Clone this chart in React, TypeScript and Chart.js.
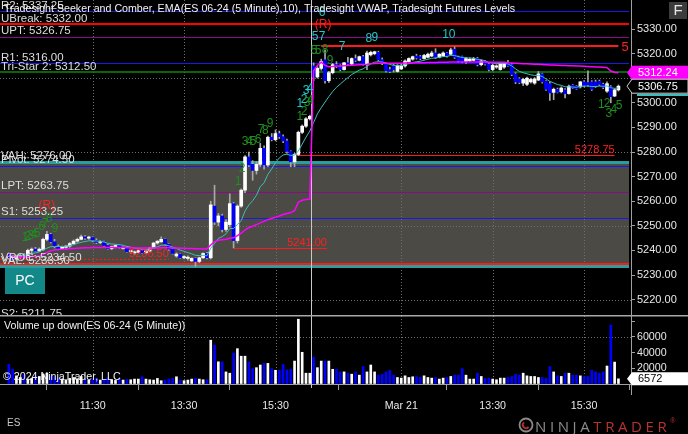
import React, { useEffect, useRef } from "react";
import { Chart, registerables } from "chart.js";

Chart.register(...registerables);

// ================= DATA =================
// Bar index 0 = 09:40 day 1, index 80 = 09:35 Mar 21 (5-minute bars)
const opens = [
  5238.5, 5237.0, 5236.5, 5237.5, 5238.0, 5237.25, 5240.0, 5240.5, 5239.75, 5240.25,
  5244.5, 5246.5, 5243.5, 5241.5, 5240.75, 5241.25, 5241.75, 5242.75, 5243.75, 5244.5,
  5245.5, 5245.0, 5245.25, 5244.0, 5243.25, 5243.5, 5242.0, 5240.75, 5241.5, 5242.0,
  5240.75, 5241.25, 5239.5, 5239.0, 5239.25, 5240.0, 5239.0, 5239.75, 5241.0, 5243.0,
  5243.5, 5244.5, 5242.5, 5240.5, 5237.75, 5238.5, 5237.0, 5236.75, 5235.75, 5236.75,
  5235.5, 5237.0, 5238.75, 5237.0, 5258.0, 5251.5, 5254.0, 5248.5, 5250.5, 5259.0,
  5244.0, 5258.0, 5264.5, 5278.0, 5275.0, 5272.5, 5275.0, 5281.5, 5274.75, 5286.0,
  5285.0, 5287.5, 5286.25, 5284.5, 5280.25, 5276.0, 5279.0, 5288.0, 5290.5, 5293.5,
  5315.0, 5310.5, 5314.0, 5317.5, 5309.0, 5312.25, 5315.5, 5314.75, 5313.5, 5316.25,
  5315.75, 5318.0, 5317.25, 5318.75, 5315.75, 5319.5, 5320.0, 5320.5, 5317.5, 5315.75,
  5313.5, 5315.25, 5312.75, 5313.75, 5315.0, 5316.75, 5317.75, 5319.0, 5318.75, 5318.0,
  5318.5, 5319.0, 5320.25, 5318.5, 5319.0, 5320.25, 5319.75, 5321.75, 5318.5, 5318.75,
  5316.75, 5317.0, 5317.25, 5318.0, 5315.5, 5317.0, 5315.75, 5313.5, 5314.5, 5313.5,
  5314.5, 5316.25, 5315.5, 5311.75, 5309.75, 5308.0, 5307.5, 5308.5, 5308.0, 5309.25,
  5311.75, 5308.75, 5307.75, 5304.25, 5305.5, 5304.5, 5305.25, 5303.75, 5307.25, 5306.75,
  5306.5, 5308.5, 5308.25, 5308.5, 5308.5, 5308.75, 5307.5, 5304.75, 5306.5, 5302.75,
  5305.25,
];
const highs = [
  5239.0, 5238.0, 5238.0, 5238.5, 5238.75, 5240.5, 5241.0, 5241.25, 5241.0, 5245.0,
  5247.75, 5247.0, 5244.5, 5242.25, 5241.75, 5242.0, 5243.25, 5244.25, 5245.0, 5246.25,
  5246.0, 5245.75, 5245.5, 5244.75, 5244.0, 5243.75, 5242.5, 5241.75, 5242.25, 5242.25,
  5241.5, 5241.5, 5240.0, 5239.75, 5240.25, 5240.25, 5240.0, 5241.25, 5243.25, 5244.0,
  5245.5, 5244.75, 5242.75, 5241.0, 5239.0, 5238.75, 5237.75, 5237.75, 5237.0, 5237.0,
  5237.25, 5239.0, 5239.25, 5260.0, 5266.5, 5255.0, 5254.75, 5252.5, 5263.0, 5259.5,
  5258.5, 5265.0, 5278.5, 5280.0, 5276.5, 5276.0, 5283.5, 5282.5, 5286.5, 5287.5,
  5289.0, 5288.5, 5287.0, 5285.25, 5280.5, 5279.5, 5288.5, 5291.0, 5294.0, 5295.0,
  5316.25, 5314.75, 5317.75, 5321.5, 5312.75, 5316.0, 5316.75, 5315.5, 5316.5, 5318.5,
  5318.25, 5319.5, 5319.0, 5319.25, 5321.0, 5321.0, 5321.0, 5321.0, 5318.25, 5316.25,
  5314.5, 5315.75, 5315.5, 5315.75, 5317.5, 5318.25, 5319.0, 5319.75, 5319.25, 5319.75,
  5320.25, 5321.0, 5322.0, 5320.0, 5320.75, 5320.5, 5322.25, 5322.75, 5319.0, 5319.0,
  5318.5, 5318.25, 5318.5, 5318.5, 5317.5, 5317.25, 5316.0, 5315.75, 5315.5, 5316.0,
  5316.5, 5317.25, 5316.0, 5312.25, 5310.25, 5310.0, 5310.5, 5310.0, 5310.25, 5312.75,
  5312.0, 5309.0, 5308.5, 5306.0, 5306.0, 5306.5, 5305.75, 5307.25, 5307.5, 5307.0,
  5308.75, 5309.0, 5313.0, 5309.0, 5309.25, 5309.25, 5308.0, 5308.5, 5307.0, 5305.75,
  5307.25,
];
const lows = [
  5236.5, 5236.0, 5236.0, 5236.75, 5237.0, 5237.0, 5239.0, 5239.5, 5239.5, 5240.0,
  5244.0, 5243.0, 5241.0, 5240.25, 5240.25, 5240.5, 5241.25, 5242.5, 5243.25, 5244.25,
  5244.5, 5244.5, 5243.5, 5242.75, 5242.75, 5241.75, 5240.5, 5240.25, 5241.0, 5240.75,
  5240.5, 5239.25, 5238.75, 5238.25, 5239.0, 5238.75, 5238.75, 5239.5, 5240.75, 5242.5,
  5243.25, 5242.0, 5240.0, 5238.5, 5237.25, 5236.75, 5236.5, 5236.0, 5235.5, 5233.5,
  5235.0, 5236.75, 5236.5, 5236.5, 5250.5, 5250.0, 5247.5, 5247.75, 5249.5, 5241.0,
  5243.0, 5257.5, 5263.5, 5274.0, 5268.5, 5271.0, 5274.0, 5273.0, 5274.0, 5284.5,
  5284.5, 5285.5, 5283.75, 5279.5, 5274.0, 5274.0, 5278.5, 5287.5, 5290.0, 5293.0,
  5309.0, 5310.0, 5313.25, 5308.0, 5308.25, 5311.75, 5314.25, 5313.0, 5313.25, 5315.25,
  5315.5, 5316.75, 5317.0, 5315.25, 5313.5, 5319.0, 5319.5, 5317.0, 5315.5, 5312.5,
  5312.25, 5312.5, 5312.5, 5313.5, 5314.5, 5316.5, 5317.25, 5317.75, 5317.5, 5317.75,
  5318.25, 5318.75, 5318.0, 5318.25, 5318.75, 5318.5, 5319.5, 5318.0, 5316.5, 5316.25,
  5316.0, 5316.75, 5317.0, 5315.0, 5315.0, 5315.25, 5313.0, 5313.0, 5314.0, 5313.25,
  5314.0, 5314.75, 5311.0, 5307.75, 5307.75, 5307.0, 5307.0, 5308.0, 5307.5, 5309.0,
  5308.0, 5305.0, 5301.0, 5301.25, 5304.0, 5304.0, 5302.0, 5303.5, 5305.75, 5305.5,
  5306.0, 5306.5, 5306.75, 5305.0, 5306.25, 5307.0, 5305.75, 5304.25, 5300.0, 5302.5,
  5304.75,
];
const closes = [
  5237.0, 5236.5, 5237.5, 5238.0, 5237.25, 5240.0, 5240.5, 5239.75, 5240.5, 5244.5,
  5246.5, 5243.5, 5241.5, 5240.75, 5241.25, 5241.75, 5242.75, 5243.75, 5244.5, 5245.5,
  5245.0, 5245.25, 5244.0, 5243.25, 5243.5, 5242.0, 5240.75, 5241.5, 5242.0, 5241.0,
  5241.25, 5239.5, 5239.75, 5239.25, 5240.0, 5239.0, 5239.75, 5241.0, 5243.0, 5243.75,
  5244.5, 5242.5, 5240.5, 5238.75, 5238.5, 5237.0, 5237.5, 5237.25, 5236.75, 5235.5,
  5237.0, 5238.75, 5237.0, 5258.5, 5251.5, 5254.0, 5248.5, 5251.5, 5259.0, 5244.0,
  5258.0, 5264.5, 5278.0, 5274.75, 5272.5, 5275.0, 5281.5, 5274.75, 5286.0, 5285.0,
  5287.5, 5286.25, 5284.5, 5280.25, 5276.0, 5279.0, 5288.0, 5290.5, 5293.5, 5294.5,
  5310.5, 5314.0, 5316.75, 5309.0, 5312.25, 5315.5, 5314.75, 5313.5, 5316.25, 5315.75,
  5318.0, 5317.25, 5318.75, 5315.75, 5320.25, 5320.5, 5320.75, 5317.5, 5316.0, 5313.0,
  5312.75, 5313.5, 5315.25, 5315.0, 5317.0, 5318.0, 5318.75, 5318.25, 5318.0, 5319.25,
  5319.75, 5320.25, 5318.5, 5319.75, 5320.25, 5319.0, 5321.5, 5318.5, 5317.0, 5316.75,
  5318.0, 5317.75, 5318.0, 5315.5, 5317.0, 5315.75, 5313.5, 5315.25, 5315.0, 5315.75,
  5316.0, 5315.0, 5311.5, 5308.5, 5308.25, 5309.5, 5310.0, 5309.5, 5309.75, 5311.75,
  5308.5, 5305.5, 5304.0, 5305.5, 5304.25, 5306.0, 5303.75, 5306.75, 5306.0, 5305.75,
  5308.5, 5307.0, 5307.25, 5305.5, 5306.75, 5307.5, 5306.25, 5307.75, 5302.5, 5305.25,
  5306.75,
];
const volumes = [
  25000, 18750, 10400, 8300, 12500, 6250, 7100, 10400, 9600, 12500,
  13750, 10400, 9200, 7500, 6250, 5400, 7100, 8300, 6700, 9600,
  5800, 5000, 6700, 7500, 5000, 6250, 8300, 5400, 4600, 6700,
  5000, 5800, 5400, 6250, 6250, 9200, 6250, 5400, 5000, 7100,
  4200, 5000, 6250, 7100, 9200, 5000, 4200, 5000, 6250, 7500,
  6250, 5400, 5400, 55800, 49600, 28300, 28300, 15400, 13750, 39600,
  45000, 35400, 35400, 28300, 19600, 20800, 24200, 26250, 26250, 19600,
  17500, 17500, 25000, 17900, 18750, 29200, 82500, 40400, 13750, 13750,
  34200, 20800, 29200, 29200, 29200, 18750, 18750, 15400, 15400, 13750,
  12500, 15400, 11250, 22100, 15400, 24200, 15400, 11250, 12500, 15400,
  17500, 11250, 8300, 7500, 10400, 8300, 9200, 9600, 8300, 10400,
  8300, 7500, 8300, 6250, 7500, 8300, 9600, 11250, 11250, 19600,
  11250, 6250, 6250, 13750, 9600, 7100, 7500, 6250, 5400, 7500,
  7500, 8300, 9600, 12500, 11250, 13750, 10400, 9600, 9600, 8300,
  8300, 7500, 22100, 15400, 10400, 9600, 13750, 13750, 11250, 11250,
  10400, 9600, 9600, 17500, 15400, 13750, 15400, 22900, 75000, 27900,
  6572,
];
const ema10 = [
  5237.6, 5237.6, 5237.7, 5237.8, 5237.9, 5238.3, 5238.7, 5239.0, 5239.4, 5240.2,
  5240.9, 5241.5, 5241.6, 5241.6, 5241.6, 5241.7, 5241.9, 5242.3, 5242.8, 5243.3,
  5243.6, 5243.9, 5243.9, 5243.8, 5243.7, 5243.4, 5242.9, 5242.6, 5242.5, 5242.3,
  5242.1, 5241.6, 5241.3, 5240.9, 5240.8, 5240.5, 5240.4, 5240.5, 5241.0, 5241.5,
  5242.1, 5242.2, 5241.9, 5241.3, 5240.8, 5240.1, 5239.6, 5239.1, 5238.6, 5238.0,
  5237.9, 5238.0, 5237.8, 5240.9, 5242.8, 5244.9, 5245.6, 5246.7, 5248.9, 5248.9,
  5250.5, 5252.1, 5256.0, 5258.5, 5260.2, 5262.4, 5265.9, 5267.5, 5270.9, 5273.1,
  5275.7, 5277.6, 5278.8, 5279.1, 5278.6, 5278.7, 5280.4, 5283.2, 5286.0, 5288.5,
  5292.0, 5295.5, 5298.0, 5300.3, 5302.5, 5304.6, 5306.3, 5307.6, 5309.0, 5310.2,
  5311.5, 5312.4, 5313.3, 5313.8, 5314.9, 5315.8, 5316.5, 5316.7, 5316.6, 5316.1,
  5315.6, 5315.2, 5315.2, 5315.2, 5315.5, 5315.9, 5316.4, 5316.7, 5316.9, 5317.3,
  5317.7, 5318.1, 5318.2, 5318.5, 5318.8, 5318.8, 5319.3, 5319.2, 5318.8, 5318.4,
  5318.3, 5318.2, 5318.1, 5317.6, 5317.5, 5317.1, 5316.4, 5316.2, 5316.0, 5316.0,
  5316.0, 5315.8, 5315.0, 5313.8, 5312.8, 5312.2, 5311.8, 5311.4, 5311.1, 5311.2,
  5310.7, 5309.7, 5308.7, 5308.1, 5307.4, 5307.1, 5306.5, 5306.5, 5306.4, 5306.3,
  5306.7, 5306.8, 5306.8, 5306.6, 5306.6, 5306.8, 5306.7, 5306.9, 5306.1, 5305.9,
  5306.0,
];
const vwap = [
  5237.9, 5237.6, 5237.4, 5237.3, 5237.3, 5237.4, 5237.5, 5237.6, 5237.7, 5238.4,
  5239.2, 5239.8, 5240.2, 5240.4, 5240.5, 5240.6, 5240.7, 5240.8, 5240.9, 5241.0,
  5241.1, 5241.1, 5241.2, 5241.2, 5241.2, 5241.2, 5241.2, 5241.2, 5241.2, 5241.2,
  5241.2, 5241.1, 5241.1, 5241.0, 5241.0, 5241.0, 5241.0, 5241.0, 5241.0, 5241.0,
  5241.1, 5241.1, 5241.1, 5241.0, 5241.0, 5240.9, 5240.9, 5240.8, 5240.8, 5240.7,
  5240.7, 5240.6, 5240.6, 5242.2, 5243.6, 5244.1, 5244.3, 5244.5, 5244.9, 5245.1,
  5246.0, 5247.0, 5248.3, 5249.3, 5249.8, 5250.5, 5251.2, 5251.8, 5252.5, 5253.0,
  5253.5, 5254.0, 5254.6, 5255.0, 5255.4, 5256.1, 5259.6, 5260.4, 5260.7, 5260.9,
  5313.0, 5315.2, 5316.5, 5315.2, 5314.7, 5314.8, 5315.0, 5315.0, 5315.1, 5315.2,
  5315.3, 5315.4, 5315.5, 5315.6, 5315.7, 5315.9, 5316.0, 5316.1, 5316.1, 5316.1,
  5316.1, 5316.1, 5316.1, 5316.1, 5316.2, 5316.2, 5316.2, 5316.3, 5316.3, 5316.3,
  5316.4, 5316.4, 5316.4, 5316.5, 5316.5, 5316.5, 5316.6, 5316.6, 5316.6, 5316.6,
  5316.6, 5316.6, 5316.6, 5316.6, 5316.6, 5316.6, 5316.5, 5316.5, 5316.5, 5316.5,
  5316.5, 5316.3, 5316.2, 5316.1, 5316.0, 5315.9, 5315.9, 5315.8, 5315.7, 5315.7,
  5315.6, 5315.5, 5315.4, 5315.4, 5315.3, 5315.2, 5315.2, 5315.1, 5315.1, 5315.0,
  5315.0, 5314.9, 5314.8, 5314.7, 5314.6, 5314.6, 5314.5, 5314.3, 5312.9, 5312.4,
  5312.24,
];

const timeTickIndex = [22, 46, 70, 103, 127, 151];
const timeTickLabels = ["11:30", "13:30", "15:30", "Mar 21", "13:30", "15:30"];
const priceTicks = [5220, 5230, 5240, 5250, 5260, 5270, 5280, 5290, 5300, 5310, 5320, 5330];
const priceGridLines = [5220, 5250, 5280, 5310];
const volumeTicks = [0, 20000, 40000, 60000, 80000];
const volumeGridLines = [60000];
const sessionBreakIndex = 79.4;

const levelNames = ["R2", "UBreak", "UPT", "R1", "Tri-Star 2", "VAH", "Pivot", "LPT", "S1", "VPOC", "VAL", "S2"];
const levelValues = [5337.25, 5332.0, 5326.75, 5316.0, 5312.5, 5276.0, 5274.5, 5263.75, 5253.25, 5234.5, 5233.5, 5211.75];

const rayValues = [5323.0, 5278.75, 5241.0, 5236.5];
const rayStartIndex = [82, 75.7, 59, -2.3];
const rayEndIndex = [160, 159, 83.5, 42];
const rayLabels = ["5", "5278.75", "5241.00", "5236.50"];

const markerTexts = [
  "(R)", "1", "2", "3", "4", "5", "6", "7", "8", "9",
  "1", "2", "3", "4", "5", "6", "7", "8", "9",
  "1", "2", "3", "4",
  "1", "2", "3", "4",
  "6", "(R)", "5", "7", "5", "5", "8", "7", "9", "8", "9", "10",
  "1", "2", "3", "4", "5",
];
const markerIndex = [
  10.0, 4.2, 5.0, 5.8, 6.6, 7.4, 8.7, 9.5, 10.6, 12.1,
  60.2, 61.2, 62.0, 63.1, 64.1, 65.4, 66.2, 67.3, 68.6,
  76.4, 77.5, 78.0, 79.1,
  76.4, 77.5, 78.3, 79.1,
  82.2, 82.5, 80.4, 82.2, 80.1, 81.2, 83.0, 87.5, 84.3, 94.5, 96.1, 115.5,
  155.5, 157.0, 157.5, 158.8, 160.2,
];
const markerPrices = [
  5258.0, 5245.0, 5245.4, 5245.8, 5246.2, 5246.7, 5249.5, 5250.7, 5252.8, 5248.7,
  5267.8, 5273.1, 5284.1, 5284.1, 5284.1, 5284.9, 5289.0, 5288.5, 5291.4,
  5299.5, 5301.1, 5304.8, 5305.6,
  5294.2, 5296.3, 5299.9, 5300.7,
  5336.5, 5331.6, 5326.7, 5326.7, 5321.1, 5321.1, 5321.5, 5322.7, 5317.0, 5325.9, 5326.3, 5327.6,
  5299.1, 5299.5, 5295.4, 5297.1, 5298.7,
];
// R = recycle, S = seeker count, C = comber count
const markerKinds = [
  "R", "S", "S", "S", "S", "S", "S", "S", "S", "S",
  "S", "S", "S", "S", "S", "S", "S", "S", "S",
  "C", "C", "C", "C",
  "S", "S", "S", "S",
  "C", "R", "C", "C", "S", "S", "S", "C", "S", "C", "C", "C",
  "S", "S", "S", "S", "S",
];

const lastPrice = 5306.75;
const lastVwap = 5312.24;
const lastVolume = 6572;

// ================= LAYOUT / STYLE =================
const FONT = '"Liberation Sans", Arial, Helvetica, sans-serif';
const X_MIN = -2.31;
const X_MAX = 163.3;
const PRICE_MAX = 5341.79;
const PRICE_MIN = 5213.74;
const VOL_MAX = 86600;
const AXIS_W = 57;

const LEVEL_STYLE: Record<string, { color: string; width: number }> = {
  R2: { color: "#1818e8", width: 1 },
  UBreak: { color: "#ff0000", width: 2 },
  UPT: { color: "#8a0a8a", width: 1 },
  R1: { color: "#1818e8", width: 1 },
  "Tri-Star 2": { color: "#0a8a0a", width: 1.5 },
  VAH: { color: "#2a9e9e", width: 3 },
  Pivot: { color: "#1818e8", width: 1 },
  LPT: { color: "#8a0a8a", width: 1 },
  S1: { color: "#1818e8", width: 1 },
  VPOC: { color: "#ff1a1a", width: 2 },
  VAL: { color: "#2a9e9e", width: 3 },
  S2: { color: "#1818e8", width: 1 },
};
const RAY_WIDTH = [2, 1, 1, 1];
const RAY_DASH = [[], [], [], [2, 2]];
const MARKER_COLOR: Record<string, string> = { R: "#ff2020", S: "#1f8f1f", C: "#22c8c8" };
const UP_COLOR = "#ffffff";
const DOWN_COLOR = "#0000ff";

function hLine(ctx: any, y: number, x0: number, x1: number, color: string, width: number, dash: number[] = []) {
  const yy = width % 2 === 1 ? Math.round(y) + 0.5 : Math.round(y);
  ctx.save();
  ctx.beginPath();
  ctx.strokeStyle = color;
  ctx.lineWidth = width;
  ctx.setLineDash(dash);
  ctx.moveTo(x0, yy);
  ctx.lineTo(x1, yy);
  ctx.stroke();
  ctx.restore();
}
function vLine(ctx: any, x: number, y0: number, y1: number, color: string, width: number, dash: number[] = []) {
  const xx = Math.round(x) + 0.5;
  ctx.save();
  ctx.beginPath();
  ctx.strokeStyle = color;
  ctx.lineWidth = width;
  ctx.setLineDash(dash);
  ctx.moveTo(xx, y0);
  ctx.lineTo(xx, y1);
  ctx.stroke();
  ctx.restore();
}
function drawTag(ctx: any, tip: number, yc: number, h: number, fill: string, stroke: string | null, text: string, color: string) {
  const left = tip + 5;
  const right = 688;
  const top = yc - h / 2;
  const bottom = yc + h / 2;
  ctx.save();
  ctx.beginPath();
  ctx.moveTo(tip, yc);
  ctx.lineTo(left, top);
  ctx.lineTo(right, top);
  ctx.lineTo(right, bottom);
  ctx.lineTo(left, bottom);
  ctx.closePath();
  ctx.fillStyle = fill;
  ctx.fill();
  if (stroke) {
    ctx.strokeStyle = stroke;
    ctx.lineWidth = 1;
    ctx.stroke();
  }
  ctx.fillStyle = color;
  ctx.font = `11px ${FONT}`;
  ctx.textAlign = "left";
  ctx.textBaseline = "middle";
  ctx.fillText(text, left + 6, yc + 0.5);
  ctx.restore();
}

const pricePanelPlugin = {
  id: "pricePanel",
  beforeDraw(chart: any) {
    const { ctx } = chart;
    ctx.save();
    ctx.fillStyle = "#000";
    ctx.fillRect(0, 0, chart.width, chart.height);
    ctx.restore();
  },
  beforeDatasetsDraw(chart: any) {
    const { ctx, chartArea: ca, scales } = chart;
    const px = (v: number) => scales.x.getPixelForValue(v);
    const py = (v: number) => scales.y.getPixelForValue(v);
    const right = ca.right - 2;
    const vahY = py(levelValues[levelNames.indexOf("VAH")]);
    const valY = py(levelValues[levelNames.indexOf("VAL")]);
    ctx.save();
    ctx.fillStyle = "#4b4a44";
    ctx.fillRect(0, vahY, right, valY - vahY);
    ctx.restore();
    priceGridLines.forEach((g) => hLine(ctx, py(g), 0, ca.right, "#6e6e6e", 1, [1, 2]));
    timeTickIndex.forEach((t) => vLine(ctx, px(t), ca.top, ca.bottom, "#6e6e6e", 1, [1, 2]));
    levelNames.forEach((n, k) => {
      const st = LEVEL_STYLE[n];
      hLine(ctx, py(levelValues[k]), 0, right, st.color, st.width);
    });
    rayValues.forEach((v, k) => {
      hLine(ctx, py(v), Math.max(0, px(rayStartIndex[k])), px(rayEndIndex[k]), "#ff1a1a", RAY_WIDTH[k], RAY_DASH[k]);
    });
    vLine(ctx, px(sessionBreakIndex), ca.top, ca.bottom, "#c8c8c8", 1);
  },
  afterDatasetsDraw(chart: any) {
    const { ctx, scales } = chart;
    const px = (v: number) => scales.x.getPixelForValue(v);
    const py = (v: number) => scales.y.getPixelForValue(v);
    ctx.save();
    ctx.font = `12px ${FONT}`;
    ctx.textAlign = "center";
    ctx.textBaseline = "middle";
    markerTexts.forEach((t, k) => {
      ctx.fillStyle = MARKER_COLOR[markerKinds[k]];
      ctx.fillText(t, px(markerIndex[k]), py(markerPrices[k]));
    });
    ctx.fillStyle = "#ff2020";
    ctx.textBaseline = "alphabetic";
    rayLabels.forEach((lab, k) => {
      const y = py(rayValues[k]);
      if (k === 0) {
        ctx.font = `13px ${FONT}`;
        ctx.textAlign = "left";
        ctx.fillText(lab, px(rayEndIndex[k]) + 3, y + 5);
      } else {
        ctx.font = `11px ${FONT}`;
        ctx.textAlign = "right";
        ctx.fillText(lab, px(rayEndIndex[k]), y - 2);
      }
    });
    ctx.font = `11.5px ${FONT}`;
    ctx.textAlign = "left";
    ctx.fillStyle = "#dedede";
    levelNames.forEach((n, k) => {
      ctx.fillText(`${n}: ${levelValues[k].toFixed(2)}`, 1, py(levelValues[k]) - 2.5);
    });
    ctx.font = `10.67px ${FONT}`;
    ctx.fillStyle = "#f2f2f2";
    ctx.textBaseline = "middle";
    ctx.fillText(
      "Tradesight Seeker and Comber, EMA(ES 06-24 (5 Minute),10), Tradesight VWAP, Tradesight Futures Levels",
      4,
      9
    );
    ctx.fillStyle = "#128888";
    ctx.fillRect(5, 268, 40, 26);
    ctx.fillStyle = "#ffffff";
    ctx.font = `14px ${FONT}`;
    ctx.textAlign = "center";
    ctx.fillText("PC", 25, 281.5);
    ctx.restore();
  },
  afterDraw(chart: any) {
    const { ctx, chartArea: ca, scales } = chart;
    const py = (v: number) => scales.y.getPixelForValue(v);
    drawTag(ctx, ca.right - 4, py(lastVwap), 14, "#ff00ff", null, lastVwap.toFixed(2), "#ffffff");
    drawTag(ctx, ca.right - 4, py(lastPrice), 14, "#000000", "#d0d0d0", lastPrice.toFixed(2), "#ffffff");
    ctx.save();
    ctx.fillStyle = "#3fbcbc";
    ctx.fillRect(637, Math.round(py(lastPrice)) + 8, 51, 2);
    ctx.fillStyle = "#3c3c3c";
    ctx.fillRect(669, 2, 18, 17);
    ctx.fillStyle = "#e6e6e6";
    ctx.font = `15px ${FONT}`;
    ctx.textAlign = "center";
    ctx.textBaseline = "middle";
    ctx.fillText("F", 678, 11);
    ctx.restore();
  },
};

const volumePanelPlugin = {
  id: "volumePanel",
  beforeDraw(chart: any) {
    const { ctx } = chart;
    ctx.save();
    ctx.fillStyle = "#000";
    ctx.fillRect(0, 0, chart.width, chart.height);
    ctx.restore();
  },
  beforeDatasetsDraw(chart: any) {
    const { ctx, chartArea: ca, scales } = chart;
    const px = (v: number) => scales.x.getPixelForValue(v);
    const py = (v: number) => scales.y.getPixelForValue(v);
    volumeGridLines.forEach((g) => hLine(ctx, py(g), 0, ca.right, "#6e6e6e", 1, [1, 2]));
    timeTickIndex.forEach((t) => vLine(ctx, px(t), ca.top, ca.bottom, "#6e6e6e", 1, [1, 2]));
    vLine(ctx, px(sessionBreakIndex), 0, ca.bottom + 4, "#c8c8c8", 1);
  },
  afterDraw(chart: any) {
    const { ctx, chartArea: ca, scales } = chart;
    const py = (v: number) => scales.y.getPixelForValue(v);
    ctx.save();
    ctx.fillStyle = "#a8a8a8";
    ctx.fillRect(0, 0, chart.width, 1.5);
    vLine(ctx, ca.right - 0.5, ca.bottom, ca.bottom + 11, "#a0a0a0", 1);
    ctx.font = `10.67px ${FONT}`;
    ctx.fillStyle = "#f2f2f2";
    ctx.textAlign = "left";
    ctx.textBaseline = "middle";
    ctx.fillText("Volume up down(ES 06-24 (5 Minute))", 4, 11);
    ctx.fillText("\u00a9 2024 NinjaTrader, LLC", 3, 62);
    ctx.fillStyle = "#c8c8c8";
    ctx.font = `10px ${FONT}`;
    ctx.fillText("ES", 7, 108);
    // NinjaTrader logo
    ctx.lineWidth = 1.8;
    ctx.strokeStyle = "#8a8a8a";
    ctx.beginPath();
    ctx.arc(526, 110, 6.5, 0, Math.PI * 2);
    ctx.stroke();
    ctx.strokeStyle = "#b03030";
    ctx.beginPath();
    ctx.arc(526, 110, 3.2, Math.PI * 0.2, Math.PI * 1.3);
    ctx.stroke();
    ctx.font = `15px "Open Sans", ${FONT}`;
    (ctx as any).letterSpacing = "3.6px";
    ctx.textBaseline = "alphabetic";
    ctx.fillStyle = "#8c8c8c";
    ctx.fillText("NINJA", 535, 116.5);
    const w = ctx.measureText("NINJA").width;
    ctx.fillStyle = "#b83232";
    ctx.fillText("TRADER", 535 + w, 116.5);
    const w2 = ctx.measureText("TRADER").width;
    (ctx as any).letterSpacing = "0px";
    ctx.font = `7px ${FONT}`;
    ctx.fillText("\u00ae", 535 + w + w2, 108);
    ctx.restore();
    drawTag(ctx, ca.right - 4, py(lastVolume), 13, "#ffffff", null, String(lastVolume), "#000000");
  },
};

function zeroPadY(s: any) {
  s.width = AXIS_W;
  s.paddingTop = 0;
  s.paddingBottom = 0;
}

export default function App() {
  const priceRef = useRef<HTMLCanvasElement>(null);
  const volRef = useRef<HTMLCanvasElement>(null);

  useEffect(() => {
    Chart.defaults.font.family = FONT;
    const bodyColors = opens.map((o, i) => (closes[i] >= o ? UP_COLOR : DOWN_COLOR));

    const priceChart = new Chart(priceRef.current as HTMLCanvasElement, {
      type: "bar",
      data: {
        datasets: [
          {
            type: "line",
            label: "VWAP",
            data: vwap.map((v, i) => ({ x: i, y: v })),
            borderColor: "#ff00ff",
            borderWidth: 1.5,
            pointRadius: 0,
            tension: 0,
            order: 0,
          },
          {
            type: "line",
            label: "EMA",
            data: ema10.map((v, i) => ({ x: i, y: v })),
            borderColor: "#3fbcbc",
            borderWidth: 1,
            pointRadius: 0,
            tension: 0,
            order: 1,
          },
          {
            type: "bar",
            label: "Body",
            data: opens.map((o, i) => ({ x: i, y: [Math.min(o, closes[i]), Math.max(o, closes[i])] })),
            backgroundColor: bodyColors,
            borderWidth: 0,
            grouped: false,
            barPercentage: 1,
            categoryPercentage: 1,
            maxBarThickness: 3,
            minBarLength: 1,
            order: 2,
          },
          {
            type: "bar",
            label: "Wick",
            data: lows.map((l, i) => ({ x: i, y: [l, highs[i]] })),
            backgroundColor: "#a8a8a8",
            borderWidth: 0,
            grouped: false,
            barPercentage: 1,
            categoryPercentage: 1,
            maxBarThickness: 1,
            order: 3,
          },
        ] as any,
      },
      options: {
        responsive: false,
        animation: false,
        devicePixelRatio: 1,
        events: [],
        layout: { padding: 0 },
        plugins: { legend: { display: false }, tooltip: { enabled: false } },
        scales: {
          x: { type: "linear", min: X_MIN, max: X_MAX, display: false, offset: false },
          y: {
            type: "linear",
            position: "right",
            min: PRICE_MIN,
            max: PRICE_MAX,
            afterFit: zeroPadY,
            afterBuildTicks: (s: any) => {
              s.ticks = priceTicks.map((v) => ({ value: v }));
            },
            ticks: {
              callback: (v: any) => Number(v).toFixed(2),
              color: "#e8e8e8",
              font: { size: 11 },
              padding: 2,
            },
            grid: { display: true, drawOnChartArea: false, drawTicks: true, tickLength: 4, tickColor: "#a0a0a0" },
            border: { display: true, color: "#a0a0a0" },
          },
        },
      } as any,
      plugins: [pricePanelPlugin],
    });

    const volChart = new Chart(volRef.current as HTMLCanvasElement, {
      type: "bar",
      data: {
        datasets: [
          {
            label: "Volume",
            data: volumes.map((v, i) => ({ x: i, y: v })),
            backgroundColor: bodyColors,
            borderWidth: 0,
            grouped: false,
            barPercentage: 1,
            categoryPercentage: 1,
            maxBarThickness: 2,
          },
        ] as any,
      },
      options: {
        responsive: false,
        animation: false,
        devicePixelRatio: 1,
        events: [],
        layout: { padding: { top: 1, left: 0, right: 0, bottom: 0 } },
        plugins: { legend: { display: false }, tooltip: { enabled: false } },
        scales: {
          x: {
            type: "linear",
            min: X_MIN,
            max: X_MAX,
            offset: false,
            position: "bottom",
            afterFit: (s: any) => {
              s.height = 50;
              s.paddingLeft = 0;
              s.paddingRight = 0;
            },
            afterBuildTicks: (s: any) => {
              s.ticks = timeTickIndex.map((v) => ({ value: v }));
            },
            ticks: {
              autoSkip: false,
              maxRotation: 0,
              callback: (v: any) => {
                const k = timeTickIndex.indexOf(Number(v));
                return k >= 0 ? timeTickLabels[k] : "";
              },
              color: "#e8e8e8",
              font: { size: 10.67 },
              padding: 10,
            },
            grid: { display: true, drawOnChartArea: false, drawTicks: true, tickLength: 6, tickColor: "#a0a0a0" },
            border: { display: true, color: "#a0a0a0" },
          },
          y: {
            type: "linear",
            position: "right",
            min: 0,
            max: VOL_MAX,
            afterFit: zeroPadY,
            afterBuildTicks: (s: any) => {
              s.ticks = volumeTicks.map((v) => ({ value: v }));
            },
            ticks: {
              callback: (v: any) => (Number(v) === 0 || Number(v) === 80000 ? "" : String(v)),
              color: "#e8e8e8",
              font: { size: 10.67 },
              padding: 2,
            },
            grid: { display: true, drawOnChartArea: false, drawTicks: true, tickLength: 4, tickColor: "#a0a0a0" },
            border: { display: true, color: "#a0a0a0" },
          },
        },
      } as any,
      plugins: [volumePanelPlugin],
    });

    return () => {
      priceChart.destroy();
      volChart.destroy();
    };
  }, []);

  return (
    <div
      style={{
        position: "fixed",
        left: 0,
        top: 0,
        width: 688,
        height: 434,
        background: "#000",
        overflow: "hidden",
      }}
    >
      <canvas
        ref={priceRef}
        width={688}
        height={315}
        style={{ position: "absolute", left: 0, top: 0, width: 688, height: 315 }}
      />
      <canvas
        ref={volRef}
        width={688}
        height={119}
        style={{ position: "absolute", left: 0, top: 315, width: 688, height: 119 }}
      />
    </div>
  );
}
